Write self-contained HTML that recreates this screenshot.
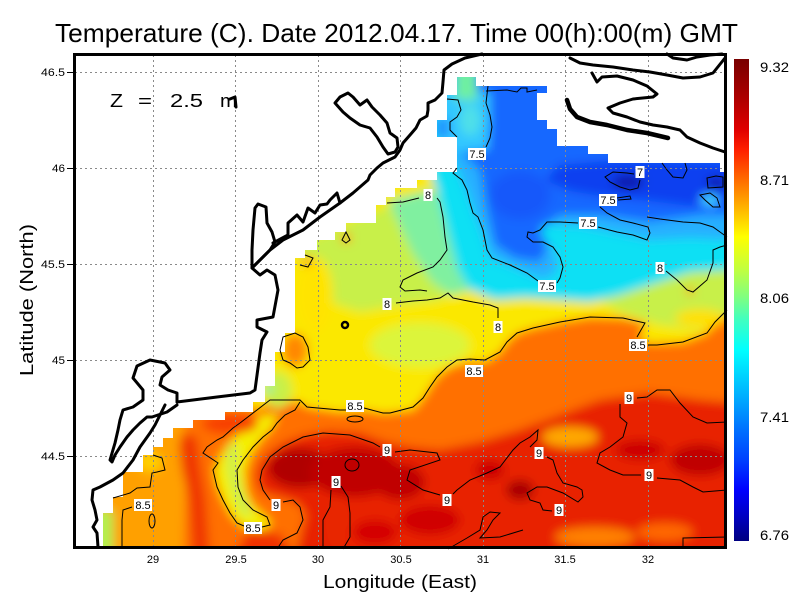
<!DOCTYPE html>
<html><head><meta charset="utf-8"><style>html,body{margin:0;padding:0;background:#fff;}svg{display:block;}</style></head>
<body>
<svg xmlns="http://www.w3.org/2000/svg" width="800" height="600" viewBox="0 0 800 600" font-family="'Liberation Sans', Arial, sans-serif">
<defs>
<clipPath id="sea"><polygon points="457,77 476,77 476,86 547,86 547,93 537,93 537,120 547,120 547,129 557,129 557,146 588,146 588,154 608,154 608,163 720,163 720,172 727,172 727,549 103,549 103,513 113,513 113,497 123,497 123,472 143,472 143,455 153,455 153,447 163,447 163,438 173,438 173,428 193,428 193,420 225,420 225,412 253,412 253,402 265,402 265,386 275,386 275,352 285,352 285,333 295,333 295,258 305,258 305,250 317,250 317,240 335,240 335,232 346,232 346,223 376,223 376,205 386,205 386,197 395,197 395,188 417,188 417,180 437,180 437,172 457,172 457,137 437,137 437,120 447,120 447,95 457,95"/></clipPath>
<filter id="bl" filterUnits="userSpaceOnUse" x="0" y="0" width="800" height="600"><feGaussianBlur stdDeviation="5"/></filter>
<linearGradient id="cb" x1="0" y1="0" x2="0" y2="1">
<stop offset="0" stop-color="#780000"/>
<stop offset="0.085" stop-color="#b00000"/>
<stop offset="0.147" stop-color="#e00000"/>
<stop offset="0.189" stop-color="#ff2000"/>
<stop offset="0.241" stop-color="#ff6000"/>
<stop offset="0.293" stop-color="#ffa000"/>
<stop offset="0.369" stop-color="#ffff00"/>
<stop offset="0.438" stop-color="#c0ff40"/>
<stop offset="0.494" stop-color="#80ff80"/>
<stop offset="0.541" stop-color="#40ffc0"/>
<stop offset="0.604" stop-color="#00ffff"/>
<stop offset="0.707" stop-color="#00a8ff"/>
<stop offset="0.770" stop-color="#0070ff"/>
<stop offset="0.832" stop-color="#0040ff"/>
<stop offset="0.894" stop-color="#0000ff"/>
<stop offset="0.95" stop-color="#0000c0"/>
<stop offset="1" stop-color="#000080"/>
</linearGradient>
</defs>
<rect width="800" height="600" fill="#fff"/>

<g clip-path="url(#sea)">
<g filter="url(#bl)">
<rect x="60" y="40" width="700" height="530" fill="#ff7000"/>
<polygon fill="#fbe800" points="60,40 760,40 760,318 725,312 707,333 683,342 650,343 640,340 645,323 623,318 590,317 560,322 533,328 517,333 507,342 500,352 485,362 467,362 450,367 437,377 430,387 423,398 413,410 383,413 367,410 340,412 307,407 300,402 270,402 257,410 250,405 60,405"/>
<polygon fill="#f4f000" points="262,416 278,414 272,427 260,440 250,455 245,470 246,490 252,505 263,515 272,523 262,531 245,528 232,516 224,501 218,486 215,470 220,457 228,445 240,432 252,421"/>
<polyline fill="none" stroke="#b8f058" stroke-width="7" points="233,445 232,470 238,495 248,515"/>
<polygon fill="#ffa000" points="60,415 185,415 187,450 183,560 60,560"/>
<ellipse cx="150" cy="462" rx="12" ry="10" fill="#ffd000"/>
<rect x="95" y="510" width="18" height="50" fill="#b0f050"/>
<ellipse cx="230" cy="424" rx="28" ry="10" fill="#f84000"/>
<polygon fill="#f03800" points="183,432 197,438 201,470 206,500 210,560 193,560 189,500 182,470 179,445"/>
<polygon fill="#e82400" points="262,492 256,478 260,463 270,452 285,442 305,435 330,431 360,433 385,442 410,447 440,450 480,442 520,430 560,415 600,400 650,393 700,400 760,405 760,560 295,560 302,530 306,515 298,503 280,497"/>
<polygon fill="#f03000" points="250,528 282,535 296,560 232,560"/>
<ellipse cx="300" cy="468" rx="32" ry="20" fill="#b00000"/>
<ellipse cx="355" cy="472" rx="45" ry="25" fill="#c00000"/>
<ellipse cx="400" cy="482" rx="25" ry="18" fill="#c00000"/>
<ellipse cx="337" cy="522" rx="11" ry="26" fill="#e82800"/>
<ellipse cx="520" cy="490" rx="14" ry="10" fill="#a80000"/>
<ellipse cx="700" cy="460" rx="30" ry="16" fill="#c00000"/>
<ellipse cx="640" cy="450" rx="25" ry="10" fill="#cc0000"/>
<ellipse cx="430" cy="520" rx="30" ry="15" fill="#d00000"/>
<ellipse cx="375" cy="532" rx="22" ry="12" fill="#d40000"/>
<ellipse cx="490" cy="470" rx="15" ry="10" fill="#cc0000"/>
<ellipse cx="570" cy="437" rx="28" ry="10" fill="#ffa800"/>
<ellipse cx="595" cy="537" rx="40" ry="10" fill="#ff8000"/>
<ellipse cx="665" cy="532" rx="28" ry="9" fill="#ff6800"/>
<polygon fill="#c8f048" points="298,245 340,226 390,206 430,200 455,230 465,285 440,300 400,305 360,312 330,302 305,292"/>
<polygon fill="#80f0a0" points="388,200 430,190 455,205 466,260 470,290 452,296 432,282 412,252 398,222"/>
<ellipse cx="420" cy="345" rx="50" ry="22" fill="#dcf53a"/>
<ellipse cx="315" cy="295" rx="18" ry="38" fill="#ffe400"/>
<ellipse cx="295" cy="350" rx="13" ry="17" fill="#ff8800"/>
<circle cx="346" cy="238" r="5" fill="#ff9000"/>
<circle cx="307" cy="261" r="6" fill="#ffb000"/>
<ellipse cx="278" cy="390" rx="14" ry="18" fill="#c8f048"/>
<circle cx="268" cy="389" r="4" fill="#40f0d0"/>
<polygon fill="#c8f048" points="600,300 640,285 690,268 760,258 760,322 725,315 700,330 660,325 620,312"/>
<ellipse cx="700" cy="318" rx="25" ry="9" fill="#ffe000"/>
<circle cx="690" cy="291" r="4" fill="#ff9000"/>
<!-- nested cold layers -->
<polygon fill="#10e0f4" points="415,40 760,40 760,268 690,272 650,285 620,295 590,302 560,300 525,298 495,300 470,290 458,270 450,240 440,200 430,172 415,150"/>
<polygon fill="#28b0ff" points="440,40 760,40 760,240 727,240 690,238 650,240 620,234 580,226 545,225 530,236 545,240 555,250 558,270 545,280 530,275 510,266 490,258 483,235 475,215 468,195 460,175 447,150"/>
<polygon fill="#1868ff" points="450,40 760,40 760,215 700,215 650,222 600,215 560,215 540,230 548,245 540,262 515,258 495,245 487,210 480,170 460,150"/>
<polygon fill="#0a40f0" points="545,180 560,165 620,160 760,163 760,205 690,206 650,201 600,196 570,191"/>
<ellipse cx="520" cy="195" rx="30" ry="24" fill="#1458fa"/>
<ellipse cx="628" cy="182" rx="16" ry="7" fill="#0818a8"/>
<ellipse cx="716" cy="183" rx="9" ry="6" fill="#0818a8"/>
<ellipse cx="710" cy="200" rx="10" ry="6" fill="#40d0ff"/>
<polygon fill="#30c8ff" points="435,92 490,92 490,120 488,150 458,152 435,140"/>
<rect x="455" y="65" width="22" height="35" fill="#70f0a0"/>
<ellipse cx="470" cy="120" rx="10" ry="16" fill="#50e0e8"/>
<rect x="435" y="118" width="14" height="20" fill="#2090ff"/>
</g>
</g>

<!-- grid -->
<g stroke="#8a8a8a" stroke-width="1" stroke-dasharray="2,3" fill="none">
<path d="M153.5,55V547M235.5,55V547M318.5,55V547M400.5,55V547M483.5,55V547M565.5,55V547M648.5,55V547"/>
<path d="M75,72.5H725M75,168.5H725M75,264.5H725M75,360.5H725M75,456.5H725"/>
</g>

<!-- contours -->
<g stroke="#000" stroke-width="1" fill="none">
<path d="M447,99 L458,100 461,110 457,117 450,122 450,130 455,135 457,137"/>
<path d="M488,86 L486,103 490,115 492,127 490,138 486,147"/>
<path d="M486,91 L507,90 517,92 521,88 527,88 527,92 537,90"/>
<path d="M457,168 L453,173 458,177 462,180 467,190 470,203 473,213 478,217 483,230 487,250 492,258 510,265 527,273 538,281"/>
<path d="M557,283 L560,278 563,267 560,257 553,247 543,242 533,242 527,237 528,232 533,233 540,230 547,222 560,222 578,223"/>
<path d="M598,227 L617,232 633,235 647,240 650,233 648,227 633,223 620,220 607,213 600,207"/>
<path d="M617,198 L630,196 631,199 618,200"/>
<path d="M634,174 L627,173 613,172 605,177 610,182 620,187 630,190 638,188 640,180"/>
<path d="M707,178 L716,176 723,177 723,187 708,188 Z"/>
<path d="M700,195 L710,193 717,198 720,207 713,207 705,200 Z"/>
<path d="M662,163 L667,170 673,177 683,178 687,170 685,163"/>
<path d="M647,217 L660,219 683,222 700,223 713,227 720,232 727,237"/>
<path d="M387,203 L403,202 419,198 M437,198 L440,202 443,217 445,237 447,250 440,260 433,267 417,273 403,280 400,287 405,291 420,290 427,291"/>
<path d="M396,303 L413,301 427,300 440,298 448,293 453,298 473,302 490,305 498,308 498,318"/>
<path d="M666,271 L677,280 687,290 693,292 707,280 713,263 713,250 720,247 727,245"/>
<path d="M390,413 L413,407 423,398 430,387 437,377 447,367 457,360 470,359 485,360 500,352 507,342 517,333 533,328 560,322 590,317 623,318 645,323 637,337 M648,345 L657,345 683,342 707,333 715,322 727,310"/>
<path d="M240,423 L257,410 270,400 283,400 300,400 307,407 340,410 346,410 M364,408 L383,413 390,413"/>
<path d="M244,526 L237,523 230,513 223,500 217,487 213,470 218,463 203,453 207,447 217,440 223,437 233,428 240,423"/>
<path d="M262,527 L270,525 267,517 253,510 243,500 238,487 237,470 243,460 253,447 263,437 272,430 277,423 285,415 295,410 300,402"/>
<path d="M277,549 L283,540 297,533 303,520 300,507 293,500 283,502 M270,500 L263,490 260,480 262,470 270,457 283,447 303,437 323,433 350,435 373,443 380,447 M395,452 L410,450 437,453 440,460 410,470 407,480 423,490 440,495 M453,494 L457,490 470,480 487,473 500,467 513,450 520,443 530,437 538,430 537,440 530,447 M547,457 L553,460 557,473 563,483 577,487 582,490 583,497 578,502 563,493 547,487 537,487 527,493 530,500 540,503 543,510 552,511"/>
<path d="M323,549 L323,520 330,507 331,490 M341,486 L348,497 350,513 350,537 343,549"/>
<ellipse cx="352" cy="465" rx="7" ry="6"/>
<path d="M637,398 L647,397 657,390 670,390 680,403 693,417 707,423 727,422"/>
<path d="M620,404 L620,417 627,423 623,437 610,447 600,453 597,463 610,470 623,475 641,475 M657,478 L680,480 693,487 703,492 727,490"/>
<path d="M448,549 L467,538 480,530 483,517 490,512 500,513 493,520 487,530 480,538 500,537 523,530"/>
<path d="M683,549 L683,538 727,537"/>
<path d="M153,455 L162,458 165,470 157,472 152,473 150,487 137,488 130,493 113,498"/>
<path d="M132,507 L123,510 122,520 122,549"/>
<ellipse cx="152" cy="521" rx="3" ry="7"/>
<path d="M283,337 L295,333 303,337 308,347 310,360 303,367 297,368 290,363 283,360 280,350 Z"/>
<path d="M346,232 L350,240 346,243 342,240 Z"/>
<path d="M305,255 L313,258 308,267 300,265"/>
<ellipse cx="355" cy="419" rx="8" ry="3"/>
</g>

<!-- coastlines -->
<g stroke="#000" stroke-width="3" fill="none" stroke-linejoin="round" stroke-linecap="round">
<path d="M482,54 L465,58 452,64 444,70 443,82 442,93 435,100 428,103 428,110 427,116 420,120 416,128 410,135 403,143 400,150 395,157 383,163 377,168 370,175 368,180 353,193 340,203 320,217 303,230 283,240 270,250 252,268 260,275 267,270 275,275 278,290 273,317 257,320 257,327 267,332 262,340 260,353 255,390 250,393 217,397 193,400 177,402"/>
<path d="M177,402 L177,393 168,390 160,385 162,377 170,370 165,363 150,360 137,366 133,378 143,390 143,400 133,407 123,410 120,420 118,430 115,443 110,460 112,462 115,455 120,447 127,437 133,430 140,423 147,417 152,417 167,412 177,405"/>
<path d="M165,405 L155,425 150,433 140,447 133,460 123,473 113,480 100,487 93,490 92,500 95,510 97,520 93,527 97,533 98,547"/>
<path d="M273,243 L288,235 288,223 297,215 303,222 308,208 315,213 320,205 327,204 330,200 337,193 340,203"/>
<path d="M270,250 L258,262 252,268 252,250 253,230 255,208 258,204 266,207 267,223 272,232 275,242 270,250"/>
<path d="M335,103 L340,97 348,93 353,97 360,105 367,100 372,107 380,115 387,123 390,133 397,138 398,147 395,152 388,154 383,147 377,137 370,128 360,125 350,118 343,112 Z"/>
<path d="M230,99 L235,97 236,107"/>
<circle cx="345" cy="325" r="3" stroke-width="2.5"/>
<path d="M570,58 L580,63 593,65 613,67 633,70 650,72 667,75 683,78 700,77 713,73 725,58"/>
<path d="M667,54 L673,58 687,60 697,57 710,55 722,54"/>
<path d="M592,73 L597,82 602,77 617,76 633,80 647,86 657,94 653,97 633,99 620,103 608,108 613,113 627,117 640,122 653,125 667,127 680,130 687,137 700,143 713,148 725,152"/>
<path d="M567,100 L570,109 577,117 590,122 607,125 627,130 647,133 668,138" stroke-width="4.5"/>
</g>

<!-- contour labels -->
<g font-size="11" text-anchor="middle" fill="#000">
<rect x="468" y="148" width="18" height="12" fill="#fff"/><text x="477" y="158">7.5</text>
<rect x="635.5" y="166" width="9" height="12" fill="#fff"/><text x="640" y="176">7</text>
<rect x="599" y="194" width="18" height="12" fill="#fff"/><text x="608" y="204">7.5</text>
<rect x="579" y="217" width="18" height="12" fill="#fff"/><text x="588" y="227">7.5</text>
<rect x="538" y="280" width="18" height="12" fill="#fff"/><text x="547" y="290">7.5</text>
<rect x="423.5" y="189" width="9" height="12" fill="#fff"/><text x="428" y="199">8</text>
<rect x="655.5" y="262" width="9" height="12" fill="#fff"/><text x="660" y="272">8</text>
<rect x="382.5" y="298" width="9" height="12" fill="#fff"/><text x="387" y="308">8</text>
<rect x="493.5" y="321" width="9" height="12" fill="#fff"/><text x="498" y="331">8</text>
<rect x="629" y="339" width="18" height="12" fill="#fff"/><text x="638" y="349">8.5</text>
<rect x="465" y="365" width="18" height="12" fill="#fff"/><text x="474" y="375">8.5</text>
<rect x="346" y="400" width="18" height="12" fill="#fff"/><text x="355" y="410">8.5</text>
<rect x="624.5" y="392" width="9" height="12" fill="#fff"/><text x="629" y="402">9</text>
<rect x="382.5" y="444" width="9" height="12" fill="#fff"/><text x="387" y="454">9</text>
<rect x="534.5" y="447" width="9" height="12" fill="#fff"/><text x="539" y="457">9</text>
<rect x="644.5" y="469" width="9" height="12" fill="#fff"/><text x="649" y="479">9</text>
<rect x="442.5" y="494" width="9" height="12" fill="#fff"/><text x="447" y="504">9</text>
<rect x="554.5" y="504" width="9" height="12" fill="#fff"/><text x="559" y="514">9</text>
<rect x="331.5" y="476" width="9" height="12" fill="#fff"/><text x="336" y="486">9</text>
<rect x="271.5" y="499" width="9" height="12" fill="#fff"/><text x="276" y="509">9</text>
<rect x="244" y="522" width="18" height="12" fill="#fff"/><text x="253" y="532">8.5</text>
<rect x="134" y="499" width="18" height="12" fill="#fff"/><text x="143" y="509">8.5</text>
</g>

<!-- frame -->
<rect x="74.5" y="54.5" width="651" height="493" fill="none" stroke="#000" stroke-width="3"/>
<g stroke="#000" stroke-width="1">
<path d="M67,72.5H73M67,168.5H73M67,264.5H73M67,360.5H73M67,456.5H73"/>
</g>

<!-- tick labels -->
<g font-size="11" fill="#000" text-anchor="end">
<text x="65" y="76" textLength="24" lengthAdjust="spacingAndGlyphs">46.5</text>
<text x="65" y="172" textLength="13" lengthAdjust="spacingAndGlyphs">46</text>
<text x="65" y="268" textLength="24" lengthAdjust="spacingAndGlyphs">45.5</text>
<text x="65" y="364" textLength="13" lengthAdjust="spacingAndGlyphs">45</text>
<text x="65" y="460" textLength="24" lengthAdjust="spacingAndGlyphs">44.5</text>
</g>
<g font-size="11" fill="#000" text-anchor="middle">
<text x="153" y="563">29</text>
<text x="236" y="563">29.5</text>
<text x="318" y="563">30</text>
<text x="401" y="563">30.5</text>
<text x="483" y="563">31</text>
<text x="565" y="563">31.5</text>
<text x="648" y="563">32</text>
</g>

<!-- colorbar -->
<rect x="734" y="59" width="15" height="482" fill="url(#cb)"/>
<g font-size="14" fill="#000">
<text x="760" y="72" textLength="29" lengthAdjust="spacingAndGlyphs">9.32</text>
<text x="760" y="185" textLength="29" lengthAdjust="spacingAndGlyphs">8.71</text>
<text x="760" y="303" textLength="29" lengthAdjust="spacingAndGlyphs">8.06</text>
<text x="760" y="422" textLength="29" lengthAdjust="spacingAndGlyphs">7.41</text>
<text x="760" y="540" textLength="29" lengthAdjust="spacingAndGlyphs">6.76</text>
</g>

<!-- titles -->
<text x="55" y="42" font-size="26" fill="#000" textLength="683" lengthAdjust="spacingAndGlyphs">Temperature (C). Date 2012.04.17. Time 00(h):00(m) GMT</text>
<g font-size="18" fill="#000">
<text x="110" y="107" textLength="13" lengthAdjust="spacingAndGlyphs">Z</text>
<text x="138" y="107" textLength="14" lengthAdjust="spacingAndGlyphs">=</text>
<text x="170" y="107" textLength="33" lengthAdjust="spacingAndGlyphs">2.5</text>
<text x="220" y="107" textLength="17" lengthAdjust="spacingAndGlyphs">m</text>
</g>
<text x="323" y="588" font-size="18" fill="#000" textLength="154" lengthAdjust="spacingAndGlyphs">Longitude (East)</text>
<text transform="translate(33,300) rotate(-90)" x="0" y="0" font-size="18" fill="#000" text-anchor="middle" textLength="152" lengthAdjust="spacingAndGlyphs">Latitude (North)</text>
</svg>
</body></html>
